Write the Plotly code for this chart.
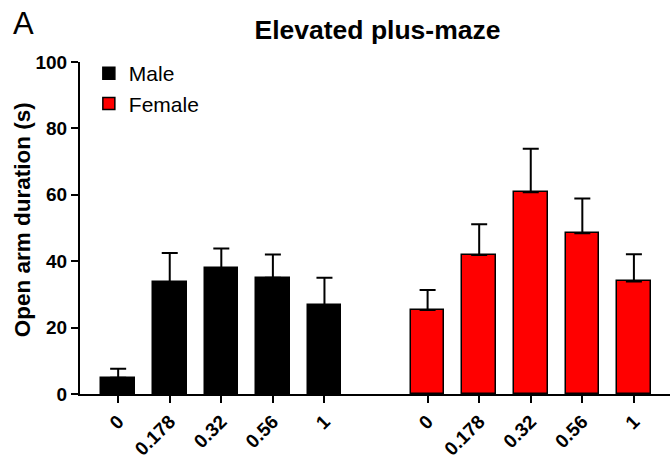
import plotly.graph_objects as go

doses = ["0", "0.178", "0.32", "0.56", "1"]
male_pos = [0, 1, 2, 3, 4]
female_pos = [6, 7, 8, 9, 10]
male_mean = [4.9, 33.7, 37.9, 35.0, 26.8]
male_err = [2.7, 8.8, 5.9, 7.0, 8.2]
female_mean = [25.3, 41.9, 60.8, 48.4, 33.9]
female_err = [6.0, 9.2, 13.1, 10.5, 8.2]

FONT = "Liberation Sans, Arial, sans-serif"
W, H = 671, 461

fig = go.Figure()
fig.add_trace(go.Bar(
    x=male_pos, y=male_mean, name="Male", width=0.65,
    marker=dict(color="#000000", line=dict(color="#000000", width=1.5)),
    error_y=dict(type="data", array=male_err, arrayminus=[0]*5, symmetric=False,
                 color="#000000", thickness=2, width=8),
))
fig.add_trace(go.Bar(
    x=female_pos, y=female_mean, name="Female", width=0.65,
    marker=dict(color="#ff0000", line=dict(color="#000000", width=1.5)),
    error_y=dict(type="data", array=female_err, arrayminus=[0]*5, symmetric=False,
                 color="#000000", thickness=2, width=8),
))

fig.update_layout(
    width=W, height=H,
    margin=dict(l=80, r=1, t=62, b=67),
    paper_bgcolor="white", plot_bgcolor="white",
    font=dict(family=FONT, color="black"),
    showlegend=True,
    legend=dict(x=0.015, y=1.027, xanchor="left", yanchor="top",
                font=dict(size=21, family=FONT), bgcolor="rgba(0,0,0,0)"),
    title=dict(text="<b>Elevated plus-maze</b>", x=377.5/W, xref="container",
               y=1-30/H, yref="container", xanchor="center", yanchor="middle",
               font=dict(size=26.5, family=FONT)),
    bargap=0,
)
fig.update_xaxes(
    range=[-0.74, 10.7], tickmode="array",
    tickvals=male_pos + female_pos, ticktext=doses + doses,
    tickangle=-45, showline=True, linewidth=2, linecolor="black",
    ticks="outside", ticklen=7, tickwidth=2, tickcolor="black",
    tickfont=dict(size=19, family=FONT, weight="bold"),
    showgrid=False, zeroline=False,
)
fig.update_yaxes(
    range=[0, 100], tickvals=[0, 20, 40, 60, 80, 100],
    showline=True, linewidth=2, linecolor="black",
    ticks="outside", ticklen=7, tickwidth=2, tickcolor="black",
    tickfont=dict(size=19, family=FONT, weight="bold"),
    showgrid=False, zeroline=False,
)
fig.add_annotation(
    text="<b>Open arm duration (s)</b>", textangle=-90,
    xref="paper", yref="paper", x=(22-80)/590, y=(393.5-220)/331.5,
    xanchor="center", yanchor="middle", showarrow=False,
    font=dict(size=22.5, family=FONT),
)
fig.add_annotation(
    text="A", xref="paper", yref="paper", x=(12-80)/590, y=(393.5-24)/331.5,
    xanchor="left", yanchor="middle", showarrow=False, borderpad=0,
    font=dict(size=31, family=FONT),
)

fig.write_html("out.html", config={"displayModeBar": False},
               post_script="document.body.style.margin='0';document.body.style.padding='0';")
